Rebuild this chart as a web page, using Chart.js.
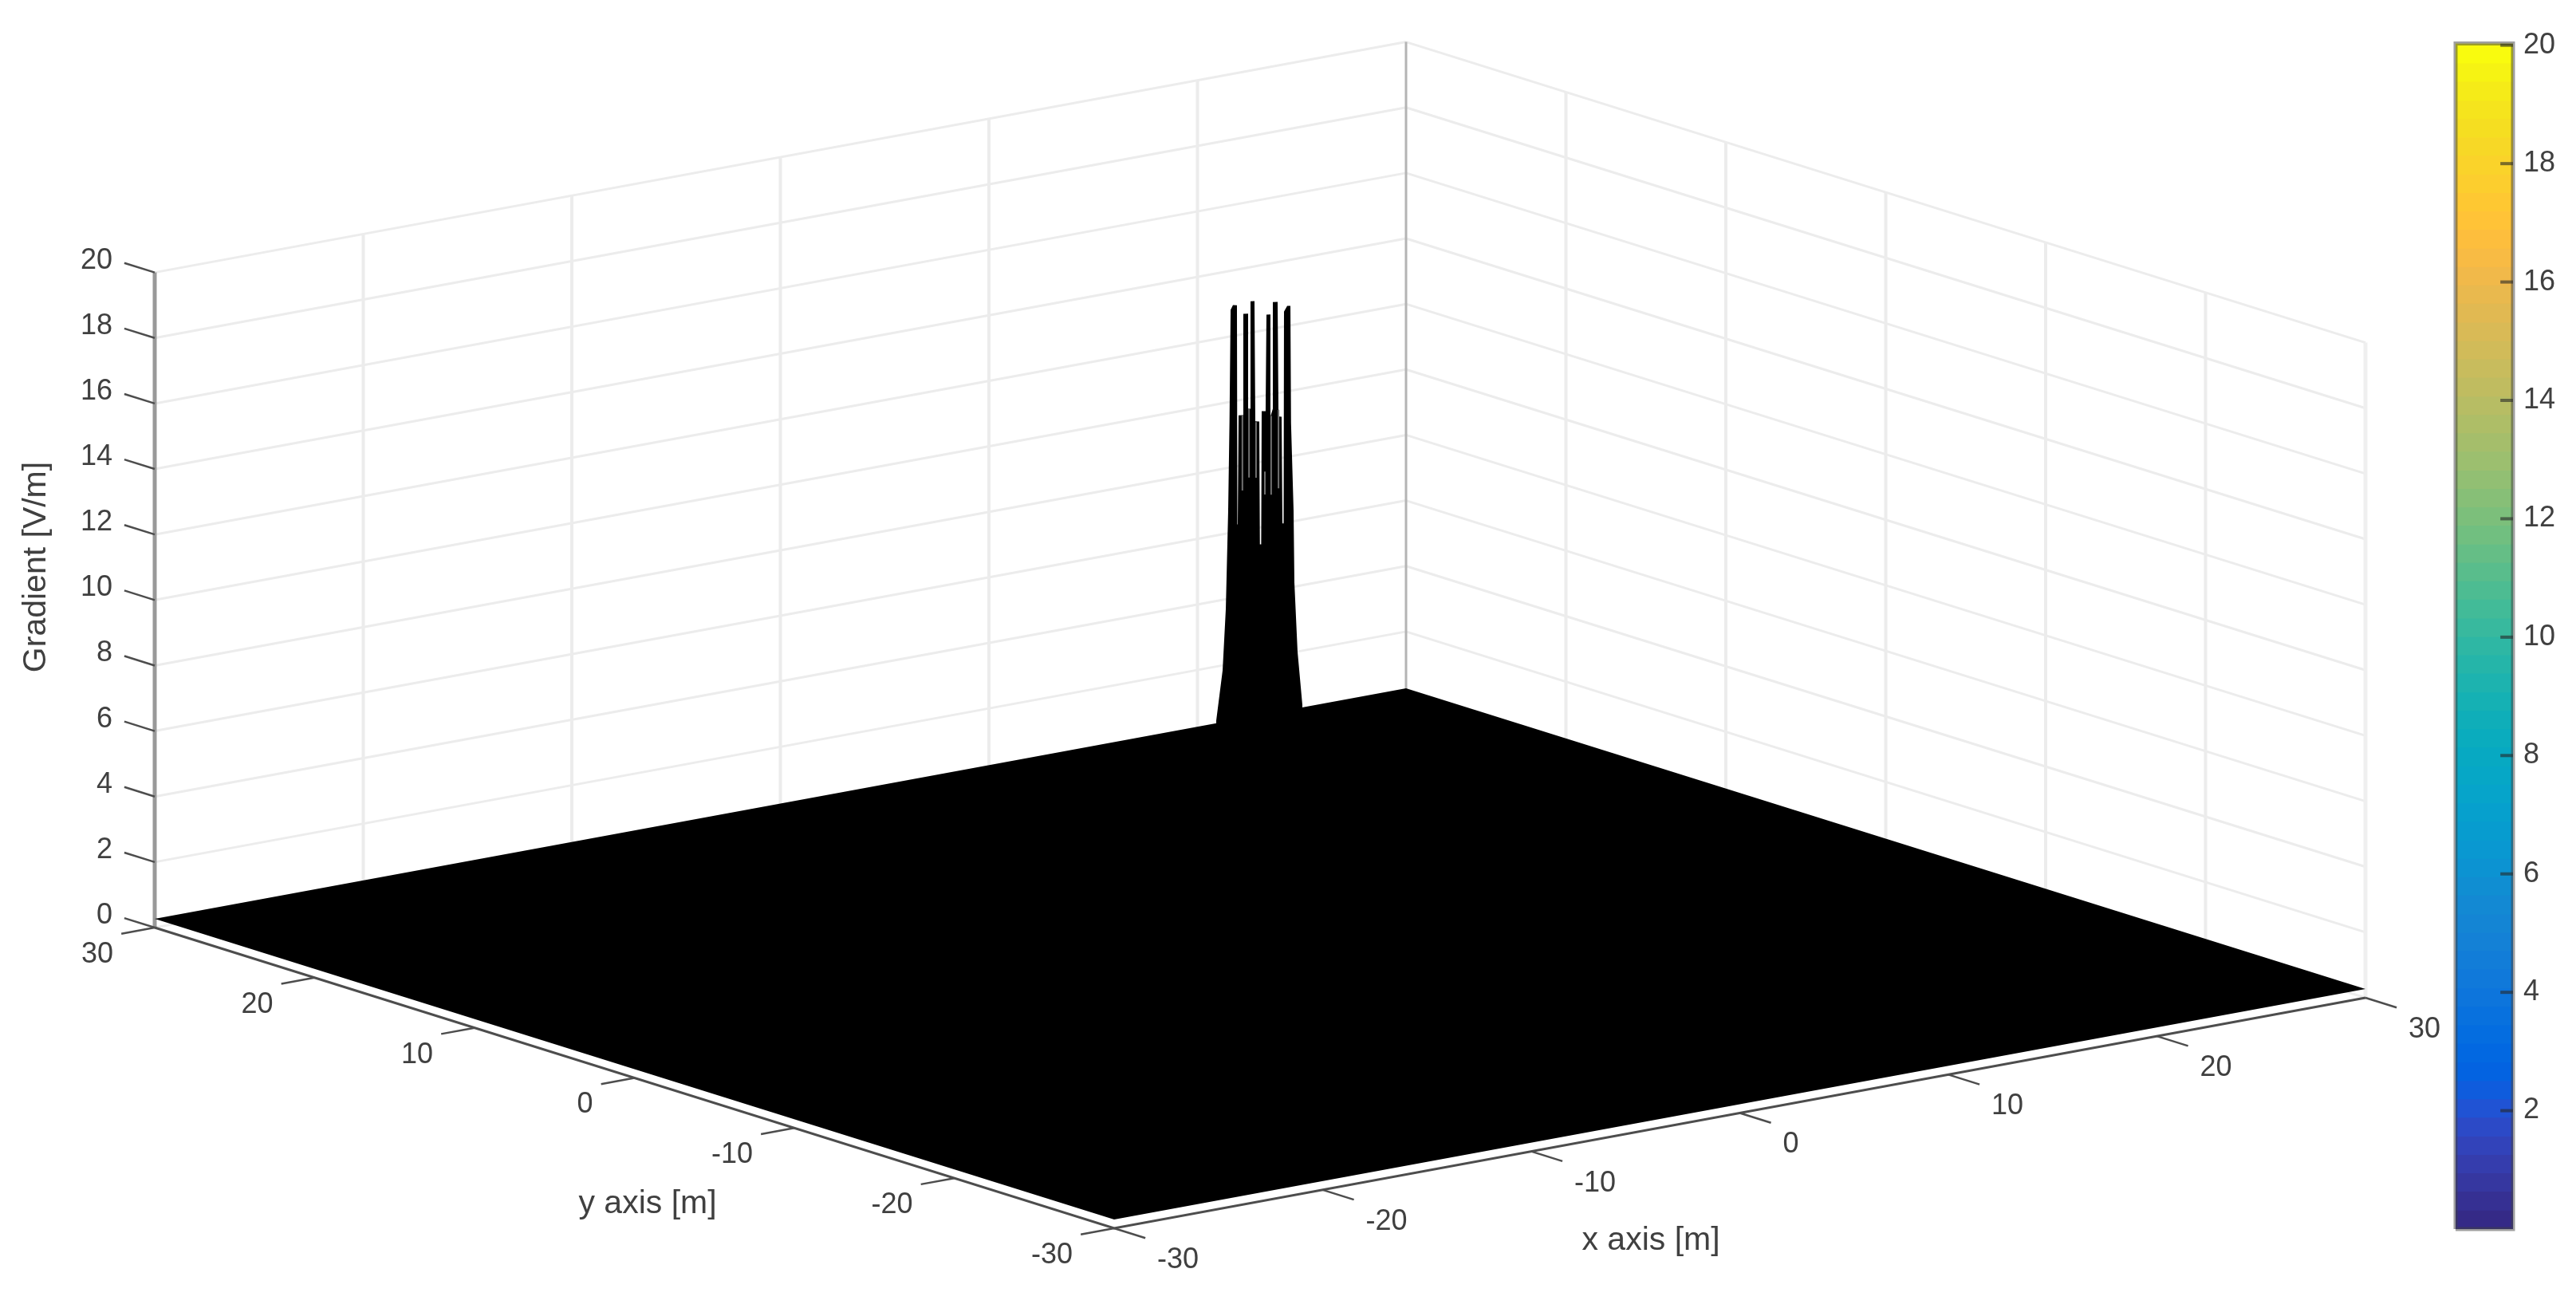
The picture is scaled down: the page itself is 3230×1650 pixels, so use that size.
<!DOCTYPE html>
<html>
<head>
  <title>Gradient surface</title>
  <script src="https://cdn.jsdelivr.net/npm/chart.js"></script>
  <style>
    html, body { margin: 0; padding: 0; background: #fff; }
    #wrap { position: relative; width: 3230px; height: 1650px; overflow: hidden; }
    canvas { position: absolute; top: 0; filter: blur(0.6px); }
    #surfaceChart { left: 0; }
    #colorbar { left: 3060px; }
  </style>
</head>
<body>
  <div id="wrap">
    <canvas id="surfaceChart" width="3230" height="1650"></canvas>
    <canvas id="colorbar" width="170" height="1650"></canvas>
  </div>

  <script>
    // --- Data ---
    const xTicks = [-30, -20, -10, 0, 10, 20, 30];
    const yTicks = [-30, -20, -10, 0, 10, 20, 30];
    const zTicks = [0, 2, 4, 6, 8, 10, 12, 14, 16, 18, 20];
    const floorZ = 0.27;

    // peak outline, read along the x = -y line through the centre
    const peakX = [-1.19, -1.19, -1.017, -0.93, -0.866, -0.83, -0.80, -0.736, -0.628, -0.617, -0.606, -0.584, -0.455, -0.455,
      -0.325, -0.325, -0.26, -0.26, -0.152, -0.13, -0.022, -0.005, 0.03, 0.043, 0.15, 0.173, 0.281, 0.281, 0.346, 0.346,
      0.476, 0.498, 0.52, 0.584, 0.606, 0.639, 0.649, 0.736, 0.823, 0.84, 0.909, 0.931, 1.017, 1.147, 1.147];
    const peakZ = [0.27, 7.35, 8.89, 10.77, 13.76, 16.5, 19.9, 20.05, 20.05, 13.36, 13.36, 16.69, 16.7, 19.79,
      19.8, 16.9, 16.9, 20.18, 20.19, 16.52, 16.52, 12.77, 12.77, 16.84, 16.84, 19.79, 19.8, 16.68, 16.92, 20.18,
      20.19, 16.93, 16.69, 16.69, 13.43, 13.43, 19.9, 20.08, 20.08, 16.5, 13.83, 11.64, 9.53, 7.92, 0.27];

    // lighter seams between the spikes
    const seamX = [-0.48, -0.30, -0.11, 0.13, 0.30, 0.50];
    const seamTop = [16.7, 16.9, 16.5, 15.0, 16.7, 16.9];
    const seamBottom = [14.4, 14.8, 14.8, 14.3, 14.3, 14.5];

    const cbTicks = [2, 4, 6, 8, 10, 12, 14, 16, 18, 20];
    const cbTops = [0.31, 0.63, 0.94, 1.25, 1.56, 1.88, 2.19, 2.5, 2.81, 3.13, 3.44, 3.75, 4.06, 4.38, 4.69, 5,
      5.31, 5.63, 5.94, 6.25, 6.56, 6.88, 7.19, 7.5, 7.81, 8.13, 8.44, 8.75, 9.06, 9.38, 9.69, 10,
      10.31, 10.63, 10.94, 11.25, 11.56, 11.88, 12.19, 12.5, 12.81, 13.13, 13.44, 13.75, 14.06, 14.38, 14.69, 15,
      15.31, 15.63, 15.94, 16.25, 16.56, 16.88, 17.19, 17.5, 17.81, 18.13, 18.44, 18.75, 19.06, 19.38, 19.69, 20.03];
    const cbColors = ['#352a87', '#363093', '#3637a0', '#353dad', '#3243ba', '#2c4ac7', '#2053d4', '#0f5cdd',
      '#0363e1', '#0268e1', '#046de0', '#0871de', '#0d75dc', '#1079da', '#127dd8', '#1481d6',
      '#1485d4', '#1389d3', '#108ed2', '#0c93d2', '#0998d1', '#079ccf', '#06a0cd', '#06a4ca',
      '#06a7c6', '#07a9c2', '#0aacbe', '#0faeb9', '#15b1b4', '#1db3af', '#25b5a9', '#2eb7a4',
      '#38b99e', '#42bb98', '#4dbc92', '#59bd8c', '#65be86', '#71bf80', '#7cbf7b', '#87bf77',
      '#92bf73', '#9cbf6f', '#a5be6b', '#aebe67', '#b7bd64', '#c0bc60', '#c8bc5d', '#d1bb59',
      '#d9ba56', '#e1b952', '#e9b94e', '#f1b94a', '#f8bb44', '#fdbe3d', '#ffc337', '#fec832',
      '#fcce2e', '#fad32a', '#f7d826', '#f5de21', '#f5e41d', '#f5eb18', '#f6f313', '#f9fb0e'];

    // --- View: fixed projection of the MATLAB camera onto the page ---
    function project(x, y, z) {
      return {
        x: 1397 + (x + 30) * 26.15 - (y + 30) * 20.05,
        y: 1540 - (x + 30) * 4.817 - (y + 30) * 6.283 - z * 41.07
      };
    }

    const GRID = '#ececec';
    const AXIS = '#4d4d4d';

    function line(points, color, width) {
      return {
        data: points.map(p => project(p[0], p[1], p[2])),
        borderColor: color, borderWidth: width,
        showLine: true, pointRadius: 0, clip: false
      };
    }

    function polygon(points) {
      return {
        data: points.map(p => project(p[0], p[1], p[2])),
        polygon: '#000', showLine: false, pointRadius: 0, clip: false
      };
    }

    const datasets = [];

    // back walls
    zTicks.forEach(z => {
      datasets.push(line([[-30, 30, z], [30, 30, z]], GRID, 3));
      datasets.push(line([[30, 30, z], [30, -30, z]], GRID, 3));
    });
    xTicks.slice(1, -1).forEach(x => datasets.push(line([[x, 30, 0], [x, 30, 20]], GRID, 4)));
    yTicks.slice(1, -1).forEach(y => datasets.push(line([[30, y, 0], [30, y, 20]], GRID, 4)));
    datasets.push(line([[30, -30, 0], [30, -30, 20]], '#efefef', 5));
    datasets.push(line([[30, 30, 0], [30, 30, 20]], '#b4b4b4', 3));
    datasets.push(line([[-30, 30, 0], [-30, 30, 20]], '#999999', 5));

    // surface
    datasets.push(polygon([[-30, 30, floorZ], [30, 30, floorZ], [30, -30, floorZ], [-30, -30, floorZ]]));
    datasets.push(polygon(peakX.map((x, i) => [x, -x, peakZ[i]])));
    seamX.forEach((x, i) => datasets.push(line([[x, -x, seamTop[i]], [x, -x, seamBottom[i]]], '#707070', 2)));

    // axis lines and ticks
    datasets.push(line([[-30, 30, 0], [-30, -30, 0], [30, -30, 0]], AXIS, 3));
    zTicks.forEach(z => datasets.push(line([[-30, 30, z], [-30, 31.9, z]], AXIS, 2.5)));
    yTicks.forEach(y => datasets.push(line([[-30, y, 0], [-31.6, y, 0]], AXIS, 2.5)));
    xTicks.forEach(x => datasets.push(line([[x, -30, 0], [x, -31.95, 0]], AXIS, 2.5)));

    const polygonFill = {
      id: 'polygonFill',
      afterDatasetDraw(chart, args) {
        const ds = chart.data.datasets[args.index];
        if (!ds.polygon) return;
        const ctx = chart.ctx;
        ctx.save();
        ctx.beginPath();
        args.meta.data.forEach((pt, i) => i ? ctx.lineTo(pt.x, pt.y) : ctx.moveTo(pt.x, pt.y));
        ctx.closePath();
        ctx.fillStyle = ds.polygon;
        ctx.fill();
        ctx.restore();
      }
    };

    const TICK_FONT = "36px 'Liberation Sans', Arial, sans-serif";
    const TITLE_FONT = "41px 'Liberation Sans', Arial, sans-serif";

    const axisText = {
      id: 'axisText',
      afterDraw(chart) {
        const ctx = chart.ctx;
        const sx = chart.scales.x, sy = chart.scales.y;
        const put = (text, x, y, align) => {
          ctx.textAlign = align;
          ctx.fillText(text, x, y);
        };
        ctx.save();
        ctx.fillStyle = '#404040';
        ctx.textBaseline = 'middle';
        ctx.font = TICK_FONT;
        zTicks.forEach(z => {
          const p = project(-30, 30, z);
          put(String(z), sx.getPixelForValue(p.x) - 53, sy.getPixelForValue(p.y) - 15, 'right');
        });
        yTicks.forEach(y => {
          const p = project(-30, y, 0);
          put(String(y), sx.getPixelForValue(p.x) - 52, sy.getPixelForValue(p.y) + 34, 'right');
        });
        xTicks.forEach(x => {
          const p = project(x, -30, 0);
          put(String(x), sx.getPixelForValue(p.x) + 54, sy.getPixelForValue(p.y) + 40, 'left');
        });
        ctx.font = TITLE_FONT;
        put('y axis [m]', 812, 1510, 'center');
        put('x axis [m]', 2070, 1556, 'center');
        ctx.translate(46, 711);
        ctx.rotate(-Math.PI / 2);
        put('Gradient [V/m]', 0, 0, 'center');
        ctx.restore();
      }
    };

    new Chart(document.getElementById('surfaceChart'), {
      type: 'scatter',
      data: { datasets: datasets.reverse() },
      plugins: [polygonFill, axisText],
      options: {
        responsive: false,
        animation: false,
        layout: { padding: 0 },
        plugins: { legend: { display: false }, tooltip: { enabled: false } },
        scales: {
          x: { type: 'linear', display: false, min: 0, max: 3230 },
          y: { type: 'linear', display: false, min: 0, max: 1650, reverse: true }
        }
      }
    });

    // --- Colorbar ---
    const cbDatasets = cbTops.map((top, i) => ({
      type: 'bar', data: [top], backgroundColor: cbColors[i],
      barPercentage: 1, categoryPercentage: 1, grouped: false
    }));
    const cbLine = (pts, color, width) => ({
      type: 'line', xAxisID: 'x2', data: pts.map(p => ({ x: p[0], y: p[1] })),
      borderColor: color, borderWidth: width, pointRadius: 0, clip: false, order: -1
    });
    cbTicks.forEach(v => cbDatasets.push(cbLine([[0.78, v], [1, v]], 'rgba(38,38,38,0.6)', 4)));
    cbDatasets.push(cbLine([[0, 0], [1, 0], [1, 20.03], [0, 20.03], [0, 0]], 'rgba(64,64,64,0.5)', 5));

    new Chart(document.getElementById('colorbar'), {
      type: 'bar',
      data: { labels: ['level'], datasets: cbDatasets },
      options: {
        responsive: false,
        animation: false,
        layout: { padding: { left: 19, top: 54.5, bottom: 109, right: 0 } },
        plugins: { legend: { display: false }, tooltip: { enabled: false } },
        scales: {
          x: { display: false },
          x2: { type: 'linear', display: false, min: 0, max: 1, offset: false },
          y: {
            position: 'right', min: 0, max: 20.03,
            afterBuildTicks: s => { s.ticks = cbTicks.map(v => ({ value: v })); },
            afterFit: s => { s.width = 79; },
            grid: { display: false, drawTicks: false },
            border: { display: false },
            ticks: {
              autoSkip: false, padding: 13, color: '#404040',
              font: { family: "'Liberation Sans', Arial, sans-serif", size: 36 }
            }
          }
        }
      }
    });
  </script>
</body>
</html>
